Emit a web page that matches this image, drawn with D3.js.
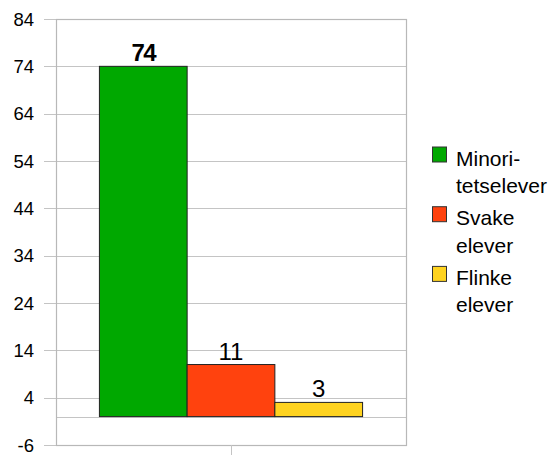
<!DOCTYPE html>
<html>
<head>
<meta charset="utf-8">
<script src="https://cdn.jsdelivr.net/npm/d3@7"></script>
<style>
  html, body { margin: 0; padding: 0; background: #fff; }
  text { font-family: "Liberation Sans", Arial, sans-serif; fill: #000; }
</style>
</head>
<body>
<svg id="chart" width="554" height="455"></svg>
<script>
const groups = [""];
const series = ["Minoritetselever", "Svake elever", "Flinke elever"];
const legendLines = [["Minori-", "tetselever"], ["Svake", "elever"], ["Flinke", "elever"]];
const values = [74, 11, 3];
const colors = ["#00a800", "#ff420e", "#ffd320"];
const boldLabel = [true, false, false];
const yTicks = [-6, 4, 14, 24, 34, 44, 54, 64, 74, 84];

const svg = d3.select("#chart");
const pLeft = 56, pRight = 406, pTop = 19, pBottom = 445;

const y = d3.scaleLinear().domain([-6, 84]).range([pBottom, pTop]);
const x0 = d3.scaleBand().domain(groups).range([pLeft, pRight]).paddingInner(0).paddingOuter(0.165);
const x1 = d3.scaleBand().domain(series).range([0, x0.bandwidth()]).padding(0);

// gridlines + tick marks
svg.append("g").selectAll("line").data(yTicks).join("line")
  .attr("x1", pLeft - 12).attr("x2", pRight)
  .attr("y1", d => Math.round(y(d)) + 0.5).attr("y2", d => Math.round(y(d)) + 0.5)
  .attr("stroke", "#c4c4c4").attr("stroke-width", 1);

// zero line
svg.append("line")
  .attr("x1", pLeft).attr("x2", pRight)
  .attr("y1", Math.round(y(0)) + 0.5).attr("y2", Math.round(y(0)) + 0.5)
  .attr("stroke", "#c4c4c4");

// plot border
svg.append("rect")
  .attr("x", pLeft + 0.5).attr("y", Math.round(pTop) + 0.5)
  .attr("width", pRight - pLeft).attr("height", Math.round(pBottom) - Math.round(pTop))
  .attr("fill", "none").attr("stroke", "#b8b8b8").attr("stroke-width", 1.2);

// bottom category tick
const cx = Math.round(x0("") + x0.bandwidth() / 2) + 0.5;
svg.append("line")
  .attr("x1", cx).attr("x2", cx)
  .attr("y1", pBottom).attr("y2", pBottom + 10)
  .attr("stroke", "#c4c4c4");

// y tick labels
svg.append("g").selectAll("text").data(yTicks).join("text")
  .attr("x", 34).attr("y", d => y(d)).attr("dy", "0.36em")
  .attr("text-anchor", "end").attr("font-size", 18.5)
  .text(d => d);

// bars
const g = svg.append("g").attr("transform", `translate(${x0("")},0)`);
g.selectAll("rect").data(values).join("rect")
  .attr("x", (d, i) => x1(series[i]))
  .attr("width", x1.bandwidth())
  .attr("y", d => y(Math.max(0, d)))
  .attr("height", d => Math.abs(y(d) - y(0)))
  .attr("fill", (d, i) => colors[i])
  .attr("stroke", "#222").attr("stroke-width", 1);

// value labels
g.selectAll("text").data(values).join("text")
  .attr("x", (d, i) => x1(series[i]) + x1.bandwidth() / 2)
  .attr("y", d => y(d) - 5)
  .attr("text-anchor", "middle")
  .attr("font-size", 24)
  .attr("font-weight", (d, i) => boldLabel[i] ? "bold" : "normal")
  .attr("letter-spacing", (d, i) => boldLabel[i] ? -1.5 : 0)
  .text(d => d);

// legend
const lg = svg.append("g");
legendLines.forEach((lines, i) => {
  const oy = 147 + i * 59.7;
  lg.append("rect")
    .attr("x", 432.5).attr("y", oy)
    .attr("width", 14).attr("height", 15)
    .attr("fill", colors[i]).attr("stroke", "#333").attr("stroke-width", 1);
  lines.forEach((t, j) => {
    lg.append("text")
      .attr("x", 456).attr("y", oy + 18.5 + j * 27.5)
      .attr("font-size", 21)
      .text(t);
  });
});
</script>
</body>
</html>
